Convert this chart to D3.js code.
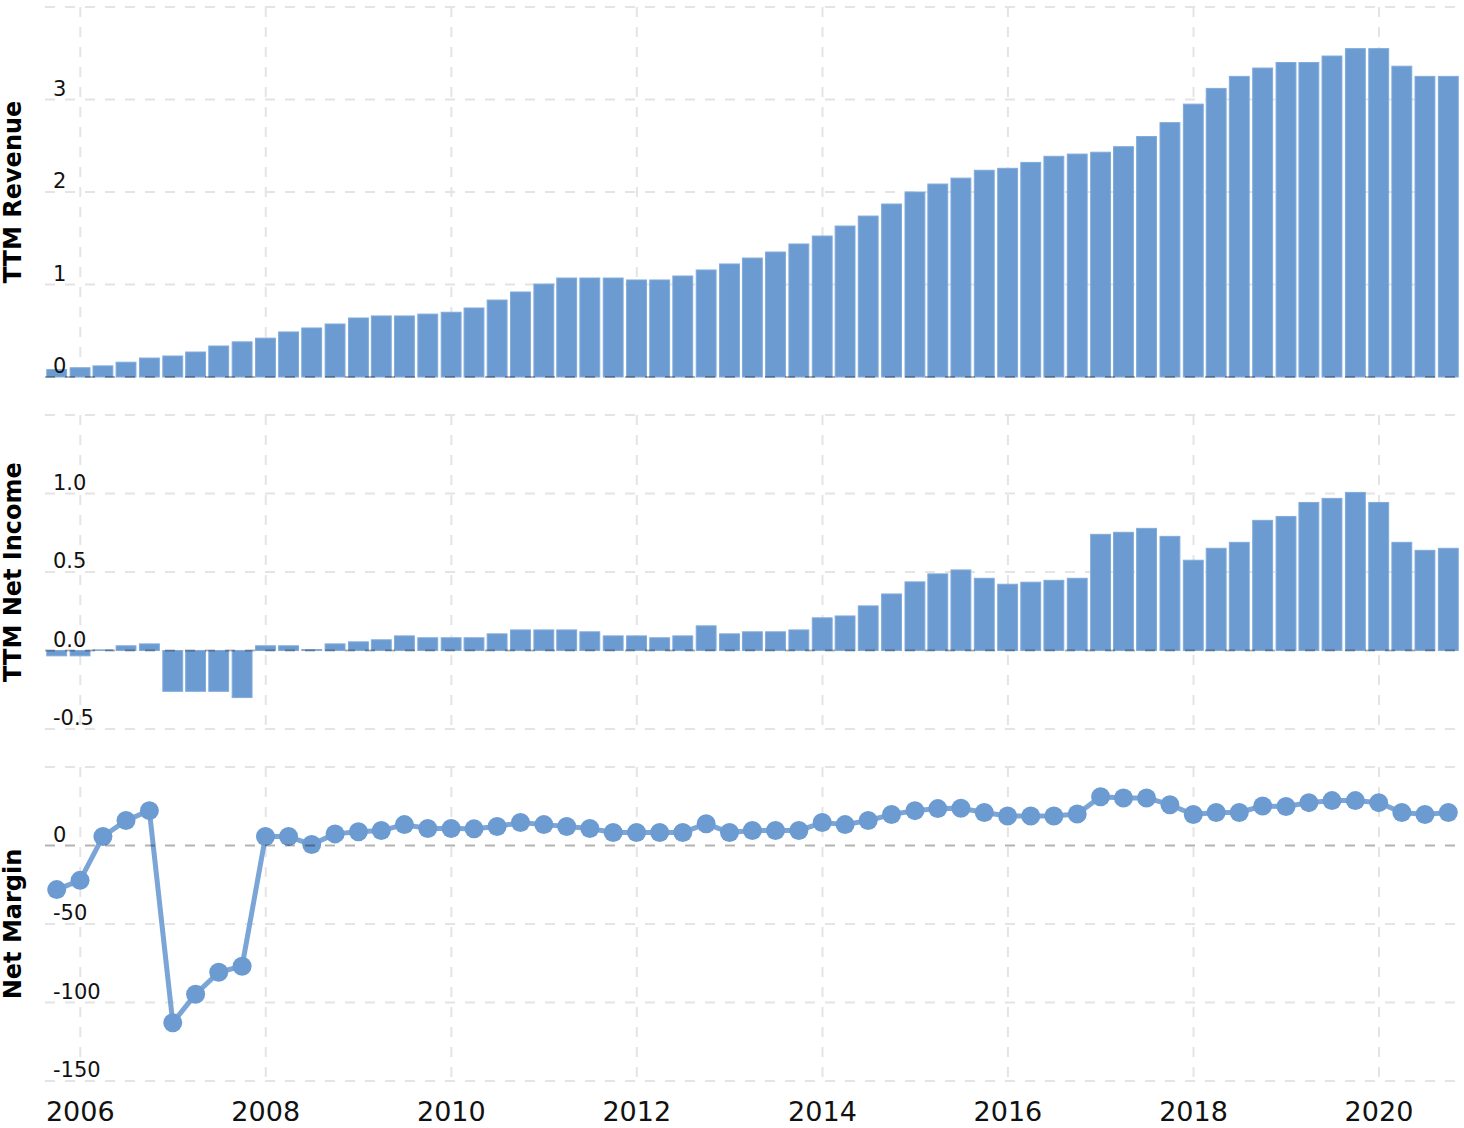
<!DOCTYPE html>
<html lang="en">
<head>
<meta charset="UTF-8">
<title>TTM Revenue / Net Income / Net Margin</title>
<style>
  body { margin: 0; background: #fff; }
  svg { display: block; font-family: "DejaVu Sans", Verdana, sans-serif; }
  .grid line { stroke: #e4e4e4; stroke-width: 2; stroke-dasharray: 10,10; }
  .zero { stroke: #000; stroke-opacity: .3; stroke-width: 2; stroke-dasharray: 10,10; }
  .tick-label { font-size: 21px; fill: #111; }
  .year-label { font-size: 27px; fill: #111; }
  .panel-title { font-size: 24px; font-weight: bold; fill: #000; }
  .bar { fill: #6b9bd1; stroke: #80abdb; stroke-width: 1; }
</style>
<script src="https://cdn.jsdelivr.net/npm/d3@7"></script>
</head>
<body>
<svg id="chart" width="1464" height="1128"></svg>
<script>
// quarter ends
var dates = [
  "2005-09-30", "2005-12-31",
  "2006-03-31", "2006-06-30", "2006-09-30", "2006-12-31",
  "2007-03-31", "2007-06-30", "2007-09-30", "2007-12-31",
  "2008-03-31", "2008-06-30", "2008-09-30", "2008-12-31",
  "2009-03-31", "2009-06-30", "2009-09-30", "2009-12-31",
  "2010-03-31", "2010-06-30", "2010-09-30", "2010-12-31",
  "2011-03-31", "2011-06-30", "2011-09-30", "2011-12-31",
  "2012-03-31", "2012-06-30", "2012-09-30", "2012-12-31",
  "2013-03-31", "2013-06-30", "2013-09-30", "2013-12-31",
  "2014-03-31", "2014-06-30", "2014-09-30", "2014-12-31",
  "2015-03-31", "2015-06-30", "2015-09-30", "2015-12-31",
  "2016-03-31", "2016-06-30", "2016-09-30", "2016-12-31",
  "2017-03-31", "2017-06-30", "2017-09-30", "2017-12-31",
  "2018-03-31", "2018-06-30", "2018-09-30", "2018-12-31",
  "2019-03-31", "2019-06-30", "2019-09-30", "2019-12-31",
  "2020-03-31", "2020-06-30", "2020-09-30"
];

var revenue = [
  0.08, 0.10,
  0.12, 0.16, 0.205, 0.227,
  0.27, 0.335, 0.38, 0.42,
  0.487, 0.53, 0.573, 0.638,
  0.66, 0.66, 0.68, 0.70,
  0.746, 0.832, 0.919, 1.005,
  1.07, 1.07, 1.07, 1.049,
  1.049, 1.092, 1.157, 1.222,
  1.286, 1.351, 1.438, 1.524,
  1.632, 1.74, 1.87, 2.0,
  2.086, 2.15, 2.235, 2.256,
  2.32, 2.386, 2.41, 2.43,
  2.49, 2.60, 2.75, 2.95,
  3.12, 3.25, 3.34, 3.40,
  3.40, 3.47, 3.55, 3.55,
  3.36, 3.25, 3.25
];

var netIncome = [
  -0.034, -0.034,
  0.004, 0.03, 0.042, -0.26,
  -0.26, -0.26, -0.30, 0.03,
  0.03, 0.006, 0.042, 0.055,
  0.068, 0.093, 0.081, 0.081,
  0.081, 0.106, 0.131, 0.131,
  0.131, 0.119, 0.093, 0.093,
  0.081, 0.093, 0.157, 0.106,
  0.119, 0.119, 0.131, 0.208,
  0.22, 0.284, 0.36, 0.437,
  0.488, 0.513, 0.46, 0.422,
  0.435, 0.447, 0.46, 0.74,
  0.753, 0.778, 0.727, 0.575,
  0.651, 0.689, 0.829, 0.854,
  0.943, 0.969, 1.007, 0.943,
  0.689, 0.638, 0.651
];

var netMargin = [
  -28.1, -22.2,
  5.7, 15.9, 22.2, -112.9,
  -94.7, -80.7, -76.9, 5.7,
  5.7, 0.6, 7.4, 8.7,
  9.5, 13.3, 10.8, 10.8,
  10.6, 12.1, 14.6, 13.3,
  12.1, 10.8, 8.3, 8.3,
  8.3, 8.3, 13.8, 8.3,
  9.5, 9.5, 9.5, 14.6,
  13.3, 15.9, 19.7, 22.2,
  23.5, 23.7, 21.0, 18.8,
  18.8, 18.8, 20.1, 31.1,
  30.3, 30.3, 26.0, 19.7,
  21.0, 21.0, 25.2, 24.8,
  27.3, 28.6, 28.6, 27.3,
  21.0, 19.7, 21.0
];

var years = [2006, 2008, 2010, 2012, 2014, 2016, 2018, 2020];

var revenueTicks = [0, 1, 2, 3, 4];
var incomeTicks = [-0.5, 0, 0.5, 1.0, 1.5];
var marginTicks = [-150, -100, -50, 0, 50];

var parse = d3.timeParse("%Y-%m-%d");
var rows = dates.map(function (d, i) {
  return { date: parse(d), revenue: revenue[i], income: netIncome[i], margin: netMargin[i] };
});

var left = 45, right = 1460;
var halfQ = 46 * 24 * 3600 * 1000;
var x = d3.scaleTime()
  .domain([new Date(rows[0].date - halfQ), new Date(+rows[rows.length - 1].date + halfQ)])
  .range([left, right]);
var step = x(rows[1].date) - x(rows[0].date);
var barW = step - 3.5;

// plain hyphen instead of d3's unicode minus
function hyphen(f) {
  return function (v) { return f(v).replace("\u2212", "-"); };
}

var panels = [
  { title: "TTM Revenue", key: "revenue", type: "bar", top: 7, bottom: 377,
    ticks: revenueTicks, fmt: hyphen(d3.format("d")) },
  { title: "TTM Net Income", key: "income", type: "bar", top: 415, bottom: 729,
    ticks: incomeTicks, fmt: hyphen(d3.format(".1f")) },
  { title: "Net Margin", key: "margin", type: "line", top: 767, bottom: 1081,
    ticks: marginTicks, fmt: hyphen(d3.format("d")) }
];

var svg = d3.select("#chart");

panels.forEach(function (p) {
  var y = d3.scaleLinear()
    .domain([p.ticks[0], p.ticks[p.ticks.length - 1]])
    .range([p.bottom, p.top]);

  var g = svg.append("g");

  // grid
  var grid = g.append("g").attr("class", "grid");
  grid.selectAll(".h").data(p.ticks.filter(function (t) { return t !== 0; }))
    .enter().append("line")
    .attr("x1", left).attr("x2", right)
    .attr("y1", function (t) { return y(t); })
    .attr("y2", function (t) { return y(t); });
  grid.selectAll(".v").data(years)
    .enter().append("line")
    .attr("x1", function (yr) { return x(new Date(yr, 0, 1)); })
    .attr("x2", function (yr) { return x(new Date(yr, 0, 1)); })
    .attr("y1", p.top).attr("y2", p.bottom);

  if (p.type === "bar") {
    g.append("g").selectAll("rect")
      .data(rows)
      .enter().append("rect")
      .attr("class", "bar")
      .attr("x", function (d) { return x(d.date) - barW / 2; })
      .attr("width", barW)
      .attr("y", function (d) { return y(Math.max(0, d[p.key])); })
      .attr("height", function (d) { return Math.abs(y(d[p.key]) - y(0)); });
  } else {
    var line = d3.line()
      .x(function (d) { return x(d.date); })
      .y(function (d) { return y(d[p.key]); });
    g.append("path")
      .datum(rows)
      .attr("d", line)
      .attr("fill", "none")
      .attr("stroke", "#6b9bd1")
      .attr("stroke-opacity", 0.9)
      .attr("stroke-width", 5)
      .attr("stroke-linejoin", "round");
    g.append("g").selectAll("circle")
      .data(rows)
      .enter().append("circle")
      .attr("cx", function (d) { return x(d.date); })
      .attr("cy", function (d) { return y(d[p.key]); })
      .attr("r", 9.5)
      .attr("fill", "#6b9bd1");
  }

  // zero line on top
  g.append("line")
    .attr("class", "zero")
    .attr("x1", left).attr("x2", right)
    .attr("y1", y(0)).attr("y2", y(0));

  // tick labels sit just above their grid line (top one is hidden)
  g.selectAll(".tick-label")
    .data(p.ticks.slice(0, -1))
    .enter().append("text")
    .attr("class", "tick-label")
    .attr("x", 53)
    .attr("y", function (t) { return y(t) - 4; })
    .text(p.fmt);

  g.append("text")
    .attr("class", "panel-title")
    .attr("transform", "translate(21," + ((p.top + p.bottom) / 2) + ") rotate(-90)")
    .attr("text-anchor", "middle")
    .text(p.title);
});

svg.append("g").selectAll("text")
  .data(years)
  .enter().append("text")
  .attr("class", "year-label")
  .attr("x", function (yr) { return x(new Date(yr, 0, 1)); })
  .attr("y", 1121)
  .attr("text-anchor", "middle")
  .text(function (yr) { return yr; });
</script>
</body>
</html>
